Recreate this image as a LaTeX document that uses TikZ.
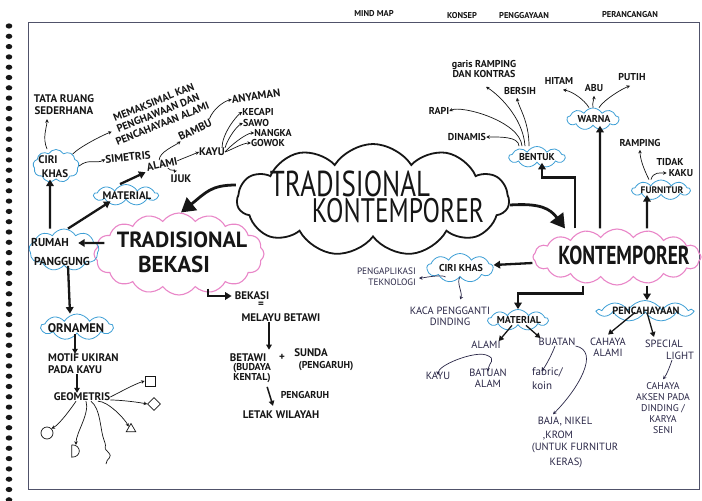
\documentclass[tikz,border=0pt]{standalone}
\usepackage{fontspec}
\setmainfont{PT Sans}
\newfontfamily\hand{PT Sans}
\newfontfamily\bighand[FakeStretch=0.75]{PT Sans}
\usetikzlibrary{shapes.symbols,shapes.geometric,arrows.meta}
\newcommand\hsz[2]{\fontsize{#1}{#2}\selectfont}
\definecolor{cblue}{HTML}{3E9FD6}
\definecolor{cpink}{HTML}{E986C8}
\definecolor{ink}{HTML}{161616}
\definecolor{ink2}{HTML}{2A2747}
\definecolor{frm}{HTML}{50526A}
\tikzset{
  lb/.style={font=\hand\bfseries\hsz{11}{12}, text=ink, inner sep=0pt, align=center},
  lbs/.style={font=\hand\bfseries\hsz{10}{10}, text=ink, inner sep=0pt, align=center},
  lbp/.style={font=\hand\hsz{10.5}{11}, text=ink2, inner sep=0pt, align=center},
  hd/.style={font=\hand\bfseries\hsz{8.5}{9}, text=ink, inner sep=0pt},
  bcl/.style={cloud, cloud puffs=9, cloud puff arc=120, cloud ignores aspect, draw=cblue, line width=0.8pt, inner sep=0pt},
  pcl/.style={cloud, cloud puffs=16, cloud puff arc=110, cloud ignores aspect, draw=cpink, line width=1.1pt, inner sep=0pt},
  mcl/.style={cloud, cloud puffs=11, cloud puff arc=115, cloud ignores aspect, draw=ink, line width=1.8pt, inner sep=0pt},
  ar/.style={draw=ink, line width=0.7pt, -{Stealth[length=3.5pt,width=3.5pt]}},
  arp/.style={ar, draw=ink2},
  dar/.style={draw=ink2, line width=0.7pt, {Stealth[length=3.5pt,width=3.5pt]}-{Stealth[length=3.5pt,width=3.5pt]}},
  mar/.style={draw=ink, line width=1.5pt, -{Triangle[length=5pt,width=5.5pt]}},
  tar/.style={draw=ink, line width=2.3pt, -{Triangle[length=6.5pt,width=7.5pt]}},
  big/.style={draw=ink, line width=2.8pt, -{Triangle[length=14pt,width=16pt]}},
  shp/.style={draw=ink, line width=0.7pt},
}
\begin{document}
\begin{tikzpicture}[x=1pt,y=-1pt]
\useasboundingbox (0,0) rectangle (702,501);
\fill[white] (0,0) rectangle (702,501);
% binding and frame
\foreach \yy in {26,36.3,...,500} \fill[ink] (9,\yy) ellipse [x radius=3.3pt, y radius=2.6pt];
\draw[frm, line width=0.9pt] (28,489) -- (28,22) -- (699,22) -- (699,489) -- cycle;
% header
\node[hd] (hmm) at (374,14) {MIND MAP};
\node[hd] (hko) at (462,16) {KONSEP};
\node[hd] (hpe) at (524,16) {PENGGAYAAN};
\node[hd] (hpr) at (630,15) {PERANCANGAN};

% central cloud
\node[mcl, minimum width=272pt, minimum height=112pt] (main) at (373,200) {};
\node[font=\bighand\hsz{36}{36}, text=ink, inner sep=0pt] (mt1) at (350,184) {TRADISIONAL};
\node[font=\bighand\hsz{34}{34}, text=ink, inner sep=0pt] (mt2) at (398,211) {KONTEMPORER};

% tradisional bekasi
\node[pcl, minimum width=170pt, minimum height=82pt] (tb) at (179,254) {};
\node[font=\bfseries\hsz{22}{22}, text=ink, inner sep=0pt] (tb1) at (182,240) {TRADISIONAL};
\node[font=\bfseries\hsz{23}{23}, text=ink, inner sep=0pt] (tb2) at (174,264) {BEKASI};

% kontemporer
\node[pcl, minimum width=168pt, minimum height=56pt] (ko) at (617,257) {};
\node[font=\bighand\bfseries\hsz{26}{26}, text=ink, inner sep=0pt] (kot) at (624,255) {KONTEMPORER};

\draw[big] ([yshift=15pt]main.west) .. controls +(-25,0) and +(25,-20) .. ([xshift=2pt]tb.north);
\draw[big] ([yshift=-5pt]main.east) .. controls +(30,-2) and +(-15,-20) .. ([xshift=-52pt]ko.north);

% ---------- left side ----------
\node[bcl, minimum width=70pt, minimum height=42pt] (rp) at (64,250) {};
\node[lb, font=\hand\bfseries\hsz{11.5}{13}] (rp1) at (50,242) {RUMAH};
\node[lb, font=\hand\bfseries\hsz{11.5}{13}] (rp2) at (62,261) {PANGGUNG};

\node[bcl, minimum width=46pt, minimum height=33pt] (ck) at (56,166) {};
\node[lb] (ck1) at (48,160) {CIRI};
\node[lb] (ck2t) at (55,174) {KHAS};

\node[bcl, minimum width=64pt, minimum height=21pt] (mat) at (126,195) {};
\node[lb, font=\hand\bfseries\hsz{11}{12}] (matt) at (127,196) {MATERIAL};

\node[bcl, minimum width=72pt, minimum height=26pt] (orn) at (77,327) {};
\node[lb, font=\hand\bfseries\hsz{12.5}{13}] (ornt) at (76,328) {ORNAMEN};

\draw[tar] ([shift={(11pt,11pt)}]tb.west) -- ([shift={(-21pt,7pt)}]rp.east);
\draw[tar] ([xshift=-14pt]rp.north) -- ([xshift=-6pt]ck.south);
\draw[tar] ([xshift=4pt]rp.north) -- ([xshift=4pt]mat.south west);
\draw[tar] ([xshift=4pt]rp.south) -- ([xshift=-7pt]orn.north);

\node[lb] (tr) at (64,105) {TATA RUANG\\SEDERHANA};
\draw[ar] ([xshift=-9pt]ck.north) .. controls +(-5,-12) and +(0,8) .. ([xshift=-17pt,yshift=-4pt]tr.south);

\node[lb, rotate=22, font=\hand\bfseries\hsz{10.5}{11.5}] (mem) at (158,113) {MEMAKSIMAL KAN\\PENGHAWAAN DAN\\PENCAHAYAAN ALAMI};
\draw[ar] (ck.north east) .. controls +(8,-8) and +(-8,3) .. (mem.west);

\node[lb, rotate=6] (sim) at (128,157) {SIMETRIS};
\draw[ar] (ck.east) .. controls +(10,-8) and +(-10,5) .. (sim.west);

\node[lb, rotate=12] (al1) at (162,164) {ALAMI};
\draw[tar] ([xshift=-6pt]mat.north) -- ([shift={(-2pt,-1pt)}]al1.south west);
\node[lb] (ijk) at (181,179) {IJUK};
\draw[ar] ([xshift=5pt]al1.south) .. controls +(3,4) and +(2,-4) .. ([xshift=-7pt,yshift=2pt]ijk.north);

\node[lb, rotate=25] (bam) at (195,130) {BAMBU};
\draw[ar] ([xshift=-2pt]al1.north) .. controls +(0,-8) and +(-5,4) .. (bam.south west);
\node[lb, rotate=8] (any) at (256,96) {ANYAMAN};
\draw[ar] (bam.north east) .. controls +(4,-10) and +(-8,2) .. (any.west);

\node[lb] (kay) at (212,152) {KAYU};
\draw[ar] (al1.east) -- (kay.west);
\node[lbs] (kec) at (258,112) {KECAPI};
\node[lbs] (saw) at (256,123) {SAWO};
\node[lbs] (nan) at (273,133) {NANGKA};
\node[lbs] (gow) at (268,143) {GOWOK};
\draw[ar] ([xshift=-3pt]kay.north east) .. controls +(0,-14) and +(-6,4) .. (kec.west);
\draw[ar] (kay.north east) .. controls +(3,-10) and +(-6,3) .. (saw.west);
\draw[ar] (kay.east) .. controls +(5,-6) and +(-8,0) .. (nan.west);
\draw[ar] (kay.east) .. controls +(6,-2) and +(-8,0) .. (gow.west);

\node[lb, anchor=west, align=left] (mot) at (48,364) {MOTIF UKIRAN\\PADA KAYU};
\draw[mar] ([xshift=-2pt]orn.south) -- ([xshift=-2pt]orn.south |- mot.north);
\node[lb] (geo) at (82,397) {GEOMETRIS};
\draw[mar] ([xshift=-5pt]geo.north |- mot.south) -- ([xshift=-5pt]geo.north);

\node[draw=ink, line width=0.7pt, minimum size=10pt, inner sep=0pt] (sq) at (150,381) {};
\node[diamond, draw=ink, line width=0.7pt, minimum size=13pt, inner sep=0pt] (dia) at (154,404) {};
\node[regular polygon, regular polygon sides=3, draw=ink, line width=0.7pt, minimum size=11pt, inner sep=0pt] (tri) at (131,429) {};
\node[circle, draw=ink, line width=0.7pt, minimum size=12pt, inner sep=0pt] (cir) at (47,433) {};
\node[minimum width=8pt, minimum height=12pt, inner sep=0pt] (dsh) at (76,451) {};
\draw[shp] (dsh.north west) -- (dsh.south west) .. controls +(10,0) and +(10,0) .. (dsh.north west);
\coordinate (sqg) at (104,440);
\draw[ar] (geo.east) .. controls +(10,-5) and +(-10,3) .. (sq.west);
\draw[ar] ([yshift=-3pt]geo.east) .. controls +(10,0) and +(-10,-2) .. (dia.west);
\draw[ar] ([xshift=16pt]geo.south) .. controls +(10,0) and +(-4,-8) .. (tri.north west);
\draw[ar] ([xshift=-6pt]geo.south) .. controls +(-4,6) and +(8,-4) .. (cir.north east);
\draw[ar] ([xshift=4pt]geo.south) .. controls +(4,12) and +(0,-12) .. (dsh.north);
\draw[shp] ([xshift=9pt]geo.south) .. controls +(10,8) and +(-4,-10) .. (sqg) .. controls +(4,10) and +(-6,-6) .. ++(4,12) .. controls +(6,6) and +(0,-6) .. ++(-2,12);

% bekasi branch
\node[lb] (bek) at (252,296) {BEKASI};
\node[lb] (eq) at (261,305) {=};
\node[lb] (mel) at (281,318) {MELAYU BETAWI};
\draw[tar] ([shift={(29pt,7pt)}]tb.south) |- ([xshift=-3pt]bek.west);
\node[lb] (bet) at (248,358) {BETAWI};
\node[lb] (plus) at (282,357) {+};
\node[lb] (sun) at (311,353) {SUNDA};
\node[lbs] (bud) at (252,373) {(BUDAYA\\KENTAL)};
\node[lbs] (pgr1) at (326,366) {(PENGARUH)};
\draw[mar] ([xshift=-12pt]mel.south) -- ([shift={(-13pt,4pt)}]plus.north);
\node[lbs] (pgr2) at (305,395) {PENGARUH};
\node[lb] (letak) at (281,415) {LETAK WILAYAH};
\draw[mar] ([shift={(-4pt,-4pt)}]bud.south east) -- ([shift={(-8pt,5pt)}]letak.north);

% ---------- right side ----------
\node[bcl, minimum width=56pt, minimum height=21pt] (ben) at (537,157) {};
\node[lbs] (bent) at (537,157) {BENTUK};
\draw[tar] ([xshift=-42pt]ko.north) -- ++(0,-51) -| ([xshift=5pt]ben.south);

\node[bcl, minimum width=52pt, minimum height=22pt] (war) at (593,119) {};
\node[lbs] (wart) at (594,119) {WARNA};
\draw[tar] ([xshift=-17pt]ko.north) -- ([xshift=7pt]war.south);

\node[bcl, minimum width=58pt, minimum height=20pt] (fur) at (661,190) {};
\node[lbs, font=\hand\bfseries\hsz{9.5}{10}] (furt) at (662,190) {FURNITUR};
\draw[tar] ([xshift=30pt]ko.north) -- ([xshift=-14pt]fur.south);

\node[lbs] (din) at (467,137) {DINAMIS};
\node[lbs] (rap) at (439,111) {RAPI};
\node[lbs] (gar) at (484,69) {garis RAMPING\\DAN KONTRAS};
\node[lbs] (bers) at (520,91) {BERSIH};
\draw[ar] ([xshift=-18pt]ben.north) .. controls +(0,-10) and +(12,0) .. (din.east);
\draw[ar] ([xshift=-15pt]ben.north) .. controls +(-2,-25) and +(12,-6) .. (rap.east);
\draw[ar] ([xshift=-12pt]ben.north) .. controls +(-2,-30) and +(10,6) .. ([shift={(2pt,-9pt)}]gar.south);
\draw[ar] ([xshift=-8pt]ben.north) .. controls +(0,-25) and +(2,10) .. ([xshift=-3pt,yshift=-3pt]bers.south);

\node[lbs] (hit) at (559,81) {HITAM};
\node[lbs] (abu) at (594,88) {ABU};
\node[lbs] (put) at (632,77) {PUTIH};
\draw[ar] ([xshift=-4pt]war.north) .. controls +(-5,-8) and +(10,2) .. ([shift={(4pt,-5pt)}]hit.south);
\draw[ar] (war.north) .. controls +(-1,-6) and +(0,5) .. ([yshift=-4pt]abu.south);
\draw[ar] ([xshift=6pt]war.north) .. controls +(5,-8) and +(-8,3) .. ([shift={(-2pt,-5pt)}]put.south);

\node[lbs] (ram) at (640,143) {RAMPING};
\node[lbs] (tid) at (670,162) {TIDAK};
\node[lbs] (kak) at (681,173) {KAKU};
\draw[ar] ([xshift=-12pt]fur.north) .. controls +(-6,-12) and +(0,8) .. ([yshift=-3pt]ram.south);
\draw[ar] ([xshift=-10pt]fur.north) .. controls +(2,-8) and +(-6,0) .. ([xshift=-2pt]kak.west);

\node[bcl, minimum width=66pt, minimum height=29pt] (ck2) at (460,268) {};
\node[lbs, font=\hand\bfseries\hsz{10}{10}] (ck2t2) at (461,268) {CIRI KHAS};
\draw[tar] ([yshift=-6pt]ko.west) -- ([yshift=3pt]ck2.east);

\node[lbp, align=right, anchor=east, font=\hand\hsz{9.3}{11}] (pen) at (416,277) {PENGAPLIKASI\\TEKNOLOGI};
\draw[arp] ([xshift=6pt]ck2.south west) .. controls +(-4,-3) and +(4,0) .. ([xshift=3pt,yshift=-1pt]pen.east);
\node[lbp] (kac) at (450,316) {KACA PENGGANTI\\DINDING};
\draw[arp] (ck2.south) .. controls +(-4,5) and +(3,-6) .. ([shift={(10pt,7pt)}]kac.north);

\node[bcl, minimum width=60pt, minimum height=21pt] (mat2) at (518,320) {};
\node[lbs, font=\hand\bfseries\hsz{10}{10}] (mat2t) at (519,320) {MATERIAL};
\draw[tar] ([xshift=-34pt]ko.south) -- ++(0,8) -| (mat2.north);

\node[bcl, minimum width=94pt, minimum height=21pt] (pc) at (645,311) {};
\node[lbs, font=\hand\bfseries\hsz{10.5}{10}] (pct) at (646,311) {PENCAHAYAAN};
\draw[tar] ([xshift=30pt]ko.south) -- ([xshift=2pt]pc.north);

\node[lbp] (al2) at (486,345) {ALAMI};
\node[lbp] (bua) at (557,342) {BUATAN};
\draw[mar, line width=1.3pt] ([xshift=-6pt]mat2.south) -- ([xshift=-2pt]al2.north east);
\draw[mar, line width=1.3pt] ([xshift=8pt]mat2.south) -- ([xshift=2pt]bua.north west);
\node[lbp] (ky2) at (438,376) {KAYU};
\node[lbp] (bat) at (488,378) {BATUAN\\ALAM};
\draw[dar] ([yshift=-3pt]ky2.north) .. controls +(0,-10) and +(-12,-4) .. ([yshift=-6pt]al2.south) .. controls +(12,4) and +(0,-8) .. ([yshift=-3pt]bat.north);
\node[lbp, align=left, anchor=west, font=\hand\hsz{11}{14}] (fab) at (532,379) {fabric/\\koin};
\draw[arp] ([xshift=-2pt]bua.south) .. controls +(-2,6) and +(4,-4) .. ([xshift=-6pt,yshift=-3pt]fab.north);
\node[lbp] (baj1) at (565,422) {BAJA, NIKEL};
\node[lbp] (baj2) at (558,436) {,KROM};
\node[lbp] (baj3) at (575,448) {(UNTUK FURNITUR};
\node[lbp] (baj4) at (566,463) {KERAS)};
\draw[arp] (bua.south east) .. controls +(25,5) and +(25,-25) .. ([shift={(-12pt,3pt)}]baj1.north);

\node[lbp] (cah) at (608,347) {CAHAYA\\ALAMI};
\node[lbp] (spe1) at (664,344) {SPECIAL};
\node[lbp] (spe2) at (680,356) {LIGHT};
\draw[mar, line width=1.3pt] ([xshift=-10pt]pc.south) -- ([yshift=3pt]cah.north);
\draw[mar, line width=1.3pt] ([xshift=2pt]pc.south) -- ([shift={(-10pt,3pt)}]spe1.north);
\node[lbp, font=\hand\hsz{9.8}{11}] (aks) at (663,408) {CAHAYA\\AKSEN PADA\\DINDING /\\KARYA\\SENI};
\draw[arp] ([xshift=-8pt]spe2.south) .. controls +(-2,6) and +(4,-5) .. ([yshift=3pt]aks.north);
\end{tikzpicture}
\end{document}
